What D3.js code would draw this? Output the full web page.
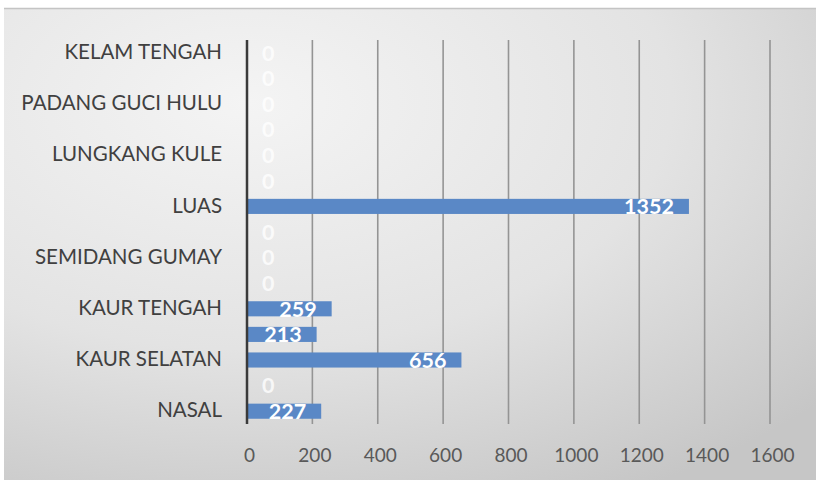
<!DOCTYPE html>
<html><head><meta charset="utf-8">
<script src="https://cdn.jsdelivr.net/npm/d3@7"></script>
<style>body{margin:0;background:#fff}svg{display:block}</style>
</head><body>
<svg id="c" width="816" height="483"></svg>
<script>
const categories = ["NASAL","MAJE","KAUR SELATAN","TETAP","KAUR TENGAH","MUARA SAHUNG","SEMIDANG GUMAY","KINAL","LUAS","TANJUNG KEMUNING","LUNGKANG KULE","KAUR UTARA","PADANG GUCI HULU","PADANG GUCI HILIR","KELAM TENGAH"];
const values = [227,0,656,213,259,0,0,0,1352,0,0,0,0,0,0];
const xTicks = [0,200,400,600,800,1000,1200,1400,1600];

const svg = d3.select("#c");
const W = 816, H = 483;
const defs = svg.append("defs");
const g1 = defs.append("radialGradient").attr("id","bg").attr("cx","0.3").attr("cy","0.2").attr("r","0.95");
g1.append("stop").attr("offset","0").attr("stop-color","#f4f4f4");
g1.append("stop").attr("offset","0.55").attr("stop-color","#e3e3e3");
g1.append("stop").attr("offset","1").attr("stop-color","#c6c6c6");

svg.append("rect").attr("x",4).attr("y",8).attr("width",W-4).attr("height",472).attr("fill","url(#bg)");
svg.append("line").attr("x1",4).attr("x2",W).attr("y1",8.5).attr("y2",8.5).attr("stroke","#c4c4c4").attr("stroke-width",1.5);

const x = d3.scaleLinear().domain([0,1600]).range([247,770]);
const y = d3.scaleBand().domain(categories).range([424,40]).paddingInner(0.41).paddingOuter(0.205);

// gridlines
svg.append("g").selectAll("line").data(xTicks.slice(1)).join("line")
  .attr("x1",d=>x(d)).attr("x2",d=>x(d)).attr("y1",40).attr("y2",424)
  .attr("stroke","#949494").attr("stroke-width",1.6);

// bars
svg.append("g").selectAll("rect").data(values).join("rect")
  .attr("x",x(0)).attr("y",(d,i)=>y(categories[i]))
  .attr("width",d=>x(d)-x(0)).attr("height",y.bandwidth())
  .attr("fill","#5a88c6");

// axis line
svg.append("line").attr("x1",x(0)).attr("x2",x(0)).attr("y1",40).attr("y2",424)
  .attr("stroke","#3a3a3a").attr("stroke-width",2.5);

// x tick labels
const xa = d3.axisBottom(x).tickValues(xTicks).tickSize(0).tickPadding(0).tickFormat(d3.format("d"));
const gx = svg.append("g").attr("transform","translate(0,448)").call(xa);
gx.select(".domain").remove();
gx.selectAll("text").attr("font-family","Lato").attr("font-size",19).attr("fill","#595959").attr("dx",2);

// y category labels (every other)
const ya = d3.axisLeft(y).tickSize(0).tickPadding(25)
  .tickFormat((d,i)=> i%2===0 ? d : "");
const gy = svg.append("g").attr("transform",`translate(${x(0)},0)`).call(ya);
gy.select(".domain").remove();
gy.selectAll("text").attr("font-family","Lato").attr("font-size",20.5).attr("fill","#404040").attr("dy","0.3em");

// data labels
const lbl = svg.append("g").selectAll("text").data(values).join("text")
  .attr("font-family","Lato").attr("font-weight","bold").attr("font-size",21.5)
  .attr("fill","#fff").attr("dy","0.36em")
  .attr("y",(d,i)=>y(categories[i])+y.bandwidth()/2)
  .text(d=>d);
lbl.each(function(d){
  const t = d3.select(this);
  const w = this.getComputedTextLength();
  let xe = x(d) - 15;
  if (xe - w < x(0) + 15) xe = x(0) + 15 + w;
  t.attr("x", xe).attr("text-anchor","end");
  if (d===0) t.attr("fill-opacity",0.8);
});
</script>
</body></html>
